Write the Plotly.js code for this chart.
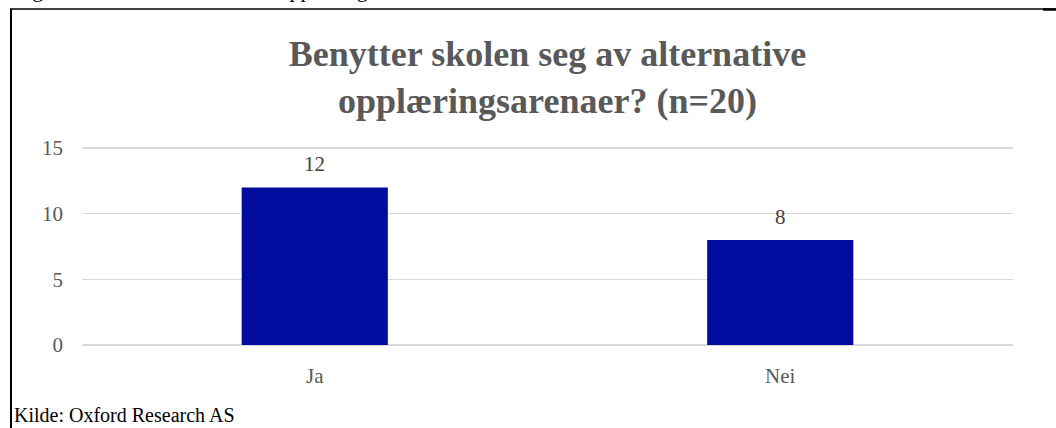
<!DOCTYPE html>
<html>
<head>
<meta charset="utf-8">
<script src="https://cdn.plot.ly/plotly-3.0.1.min.js"></script>
<style>
html,body{margin:0;padding:0;background:#fff;}
#chart{width:1056px;height:428px;}
</style>
</head>
<body>
<div id="chart"></div>
<script>
const categories = ["Ja", "Nei"];
const values = [12, 8];
const yTicks = [0, 5, 10, 15];
const titleText = "Benytter skolen seg av alternative<br>opplæringsarenaer? (n=20)";
const captionText = "Figur 1 Bruken av alternative opplæringsarenaer";
const sourceText = "Kilde: Oxford Research AS";

const W = 1056, H = 428;
const m = {l: 82, r: 43, t: 146, b: 81};
const pw = W - m.l - m.r, ph = H - m.t - m.b;
const px = x => (x - m.l) / pw;
const py = y => (H - m.b - y) / ph;

const serif = "Liberation Serif, Times New Roman, serif";

const trace = {
  type: "bar",
  x: categories,
  y: values,
  marker: {color: "#000C9E"},
  width: 0.314,
  hoverinfo: "none"
};

const labelAnns = categories.map((c, i) => ({
  x: c, y: values[i], xref: "x", yref: "y",
  text: String(values[i]), showarrow: false,
  yanchor: "bottom", yshift: 9,
  font: {family: serif, size: 21, color: "#404040"}
}));

const layout = {
  width: W, height: H,
  margin: m,
  paper_bgcolor: "#fff",
  plot_bgcolor: "#fff",
  showlegend: false,
  title: {
    text: "<b>" + titleText + "</b>",
    font: {family: serif, size: 36, color: "#595959"},
    x: 0.5, xref: "paper", xanchor: "center",
    y: 1 - 66/H, yref: "container", yanchor: "top"
  },
  xaxis: {
    type: "category",
    showgrid: false, zeroline: false, showline: false,
    ticks: "",
    tickfont: {family: serif, size: 21, color: "#595959"},
    ticklabelstandoff: 14,
    fixedrange: true
  },
  yaxis: {
    range: [-0.15, 15.15],
    tickvals: yTicks,
    ticktext: yTicks.map(String),
    showgrid: true, gridcolor: "#d9d9d9", gridwidth: 1.2,
    zeroline: false, showline: false, ticks: "",
    tickfont: {family: serif, size: 21, color: "#595959"},
    ticklabelstandoff: 18,
    fixedrange: true
  },
  shapes: [
    {type: "line", xref: "paper", yref: "paper", x0: px(11), x1: px(11), y0: py(9), y1: py(430), line: {color: "#000", width: 2}},
    {type: "line", xref: "paper", yref: "paper", x0: px(10), x1: px(1056), y0: py(9), y1: py(9), line: {color: "#000", width: 1.5}},
    {type: "line", xref: "paper", yref: "paper", x0: px(1043), x1: px(1056), y0: py(9.5), y1: py(9.5), line: {color: "#000", width: 2.5}}
  ],
  annotations: labelAnns.concat([
    {xref: "paper", yref: "paper", x: px(12), y: py(4), xanchor: "left", yanchor: "bottom",
     text: captionText, showarrow: false, font: {family: serif, size: 22, color: "#000"}},
    {xref: "paper", yref: "paper", x: px(12), y: py(428), xanchor: "left", yanchor: "bottom",
     text: sourceText, showarrow: false, font: {family: serif, size: 20, color: "#000"}}
  ])
};

Plotly.newPlot("chart", [trace], layout, {displayModeBar: false, staticPlot: true});
</script>
</body>
</html>
